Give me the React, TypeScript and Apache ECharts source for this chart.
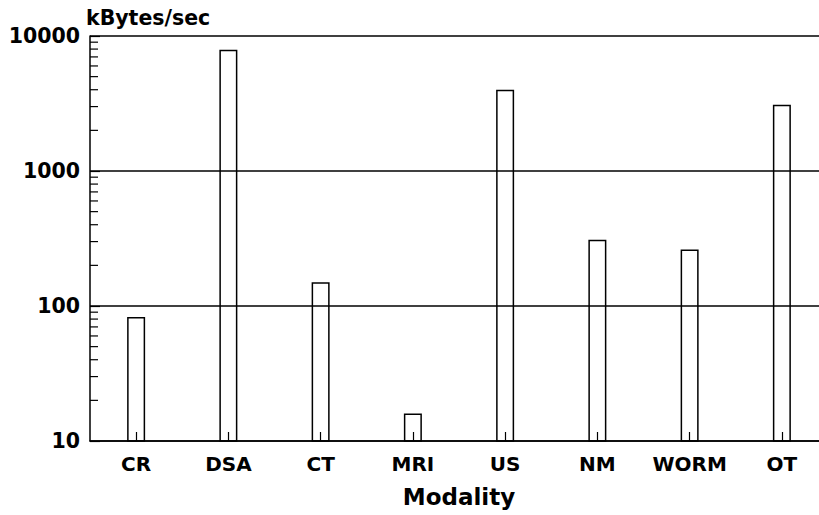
import React, { useEffect, useRef } from "react";
import * as echarts from "echarts";

const categories = ["CR", "DSA", "CT", "MRI", "US", "NM", "WORM", "OT"];
const throughput = [83, 7900, 150, 16, 4000, 310, 262, 3100];
const yMin = 10;
const yMax = 10000;
const minorTickValues = [
  20, 30, 40, 50, 60, 70, 80, 90,
  200, 300, 400, 500, 600, 700, 800, 900,
  2000, 3000, 4000, 5000, 6000, 7000, 8000, 9000,
];

const FONT = "DejaVu Sans";

export default function App() {
  const ref = useRef<HTMLDivElement>(null);
  useEffect(() => {
    if (!ref.current) return;
    const chart = echarts.init(ref.current, undefined, { renderer: "svg" });
    chart.setOption({
      animation: false,
      backgroundColor: "#ffffff",
      grid: {
        left: 90,
        right: -9,
        top: 36,
        bottom: 74,
        outerBoundsMode: "none",
        containLabel: false,
      },
      xAxis: {
        type: "category",
        data: categories,
        name: "Modality",
        nameLocation: "middle",
        nameGap: 44,
        nameTextStyle: { fontFamily: FONT, fontWeight: "bold", fontSize: 23, color: "#000" },
        axisLine: { show: true, lineStyle: { color: "#000", width: 1.5 } },
        axisTick: { show: true, interval: 0, alignWithLabel: true, inside: true, length: 9, lineStyle: { color: "#000", width: 1.2 } },
        axisLabel: { interval: 0, fontFamily: FONT, fontWeight: "bold", fontSize: 20, color: "#000", margin: 13 },
        splitLine: { show: false },
      },
      yAxis: {
        type: "log",
        logBase: 10,
        min: yMin,
        max: yMax,
        name: "kBytes/sec",
        nameLocation: "end",
        nameGap: 8,
        nameTextStyle: { fontFamily: FONT, fontWeight: "bold", fontSize: 20.5, color: "#000", align: "left", verticalAlign: "bottom", padding: [0, 0, 0, -4] },
        axisLine: { show: true, lineStyle: { color: "#000", width: 1.5 } },
        axisTick: { show: true, inside: true, length: 10, lineStyle: { color: "#000", width: 1.2 } },
        axisLabel: {
          fontFamily: FONT,
          fontWeight: "bold",
          fontSize: 20.5,
          color: "#000",
          margin: 10,
          padding: [6, 0, 0, 0],
          formatter: (v: number) => String(Math.round(v)),
        },
        splitLine: { show: true, lineStyle: { color: "#000", width: 1.5 } },
      },
      series: [
        {
          type: "bar",
          data: throughput,
          barWidth: 18,
          itemStyle: { color: "rgba(255,255,255,0)", borderColor: "#000", borderWidth: 1.5 },
          silent: true,
          z: 3,
        },
        {
          type: "custom",
          silent: true,
          clip: false,
          z: 4,
          data: minorTickValues.map((v) => [0, v]),
          renderItem: (params: any, api: any) => {
            const p = api.coord([0, api.value(1)]);
            const band = api.size([1, 0])[0];
            const x0 = p[0] - band / 2;
            return {
              type: "line",
              shape: { x1: x0, y1: p[1], x2: x0 + 8, y2: p[1] },
              style: { stroke: "#000", lineWidth: 1.2 },
            };
          },
        },
      ],
    });
    return () => chart.dispose();
  }, []);
  return (
    <div
      ref={ref}
      style={{ position: "fixed", left: 0, top: 0, width: 819, height: 515, background: "#fff" }}
    />
  );
}
